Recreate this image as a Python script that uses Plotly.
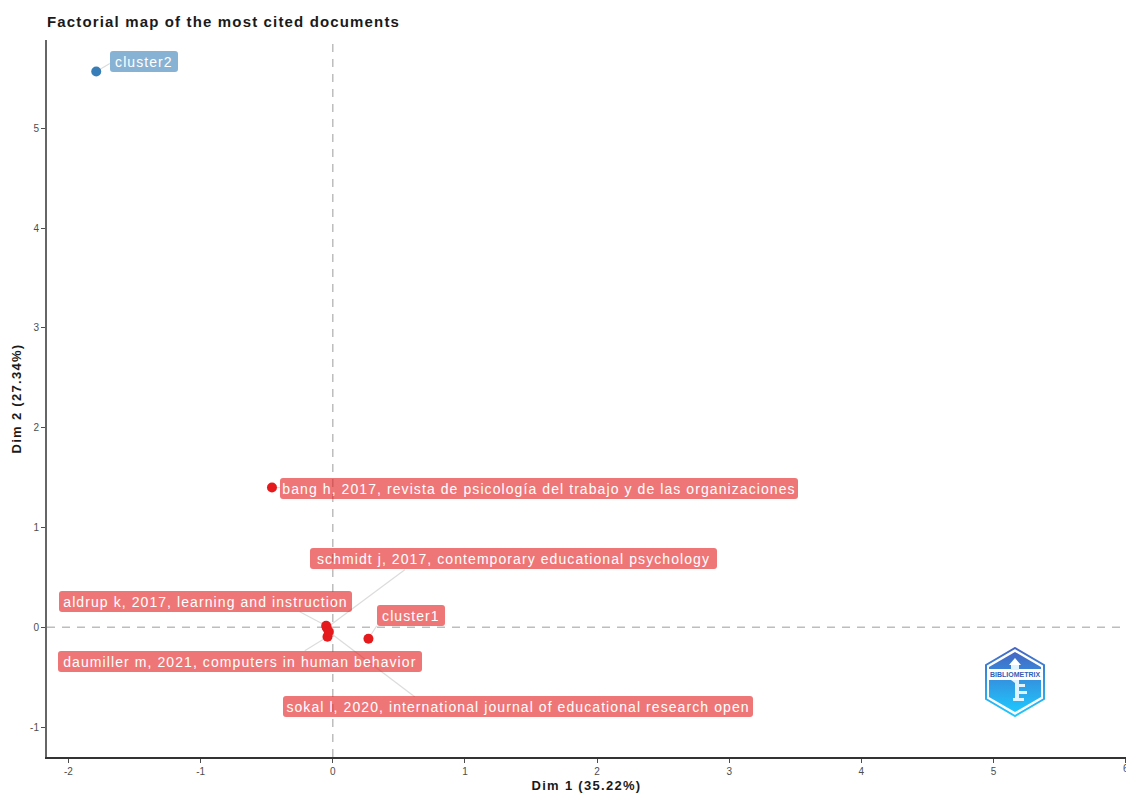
import base64
import plotly.graph_objects as go

doc_labels = [
    "cluster2",
    "bang h, 2017, revista de psicología del trabajo y de las organizaciones",
    "schmidt j, 2017, contemporary educational psychology",
    "aldrup k, 2017, learning and instruction",
    "cluster1",
    "daumiller m, 2021, computers in human behavior",
    "sokal l, 2020, international journal of educational research open",
]
dim1 = [-1.79, -0.46, -0.045, -0.05, 0.27, -0.04, -0.03]
dim2 = [5.57, 1.40, -0.005, 0.015, -0.115, -0.095, -0.045]
cluster = [2, 1, 1, 1, 1, 1, 1]

# Label placement (centres, box widths) and connector ends
label_x = [-1.43, 1.558, 1.365, -0.965, 0.59, -0.703, 1.40]
label_y = [5.667, 1.394, 0.69, 0.256, 0.12, -0.341, -0.792]
label_w = [64, 514, 403, 289, 64, 360, 466]
link_x = [-1.687, -0.40, 0.545, -0.25, 0.333, -0.212, 0.62]
link_y = [5.65, 1.40, 0.577, 0.155, 0.015, -0.236, -0.697]

x_ticks = [-2, -1, 0, 1, 2, 3, 4, 5, 6]
x_tick_text = ["-2", "-1", "0", "1", "2", "3", "4", "5", "6"]
y_ticks = [-1, 0, 1, 2, 3, 4, 5]
y_tick_text = ["-1", "0", "1", "2", "3", "4", "5"]
x_range = [-2.1626, 6.003]
y_range = [-1.30, 5.885]

point_colors = {1: "#e41a1c", 2: "#377eb8"}
label_colors = {1: "rgba(228,26,28,0.6)", 2: "rgba(55,126,184,0.6)"}

logo_svg = """<svg xmlns='http://www.w3.org/2000/svg' viewBox='0 0 60 70'>
<defs><linearGradient id='g' x1='0' y1='0' x2='0' y2='1'>
<stop offset='0' stop-color='#4466c4'/><stop offset='1' stop-color='#1fc8ff'/></linearGradient></defs>
<polygon points='30,1 59,18 59,52 30,69 1,52 1,18' fill='none' stroke='url(#g)' stroke-width='2'/>
<polygon points='30,5 56,20 56,50 30,65 4,50 4,20' fill='url(#g)'/>
<rect x='3' y='22' width='54' height='11' fill='#ffffff'/>
<polygon points='30,11 36,18 24,18' fill='#ffffff'/>
<path d='M26 18 h8 v5 h-8 z M26 33 h8 v4 h6 v3 h-6 v4 h8 v3 h-8 v4 h5 v3 h-11 v-3 h2 v-15 z' fill='#dff4ff'/>
</svg>"""
logo_uri = "data:image/svg+xml;base64," + base64.b64encode(logo_svg.encode()).decode()

fig = go.Figure()
fig.add_hline(y=0, line=dict(color="#bdbdbd", width=1.5, dash="8px,7px"), layer="below")
fig.add_vline(x=0, line=dict(color="#bdbdbd", width=1.5, dash="8px,7px"), layer="below")

for px, py, ex, ey in zip(dim1, dim2, link_x, link_y):
    fig.add_trace(go.Scatter(x=[px, ex], y=[py, ey], mode="lines", hoverinfo="skip",
                             line=dict(color="#dcdcdc", width=1.2), showlegend=False))

fig.add_trace(go.Scatter(
    x=dim1, y=dim2, mode="markers", hoverinfo="text", text=doc_labels,
    marker=dict(size=10, color=[point_colors[c] for c in cluster]),
    showlegend=False, cliponaxis=False,
))

for lab, lx, ly, w, c in zip(doc_labels, label_x, label_y, label_w, cluster):
    fig.add_annotation(
        x=lx, y=ly, xref="x", yref="y", text=lab, showarrow=False,
        width=w, height=17, align="center", valign="middle",
        font=dict(family="Liberation Sans, Arial, sans-serif", size=14, color="white"),
        bgcolor=label_colors[c], borderpad=2, borderwidth=0,
    )

fig.add_layout_image(
    source=logo_uri, xref="paper", yref="paper", x=(985-47)/1079, y=(757-647)/717,
    sizex=60/1079, sizey=70/717, xanchor="left", yanchor="top", layer="below",
    sizing="stretch",
)
fig.add_annotation(
    x=5.165, y=-0.475, xref="x", yref="y", text="<b>BIBLIOMETRIX</b>", showarrow=False,
    font=dict(family="Liberation Sans, Arial, sans-serif", size=7, color="#2f5fb8"),
)
# The last tick label sits on the page edge, where the axis drops it
fig.add_annotation(
    x=x_ticks[-1], y=0, xref="x", yref="paper", yshift=-11, text=x_tick_text[-1], showarrow=False,
    xanchor="center", yanchor="middle", font=dict(size=10, color="#4d4d4d"),
)

fig.update_layout(
    width=1126, height=793, margin=dict(l=47, r=0, t=40, b=36),
    plot_bgcolor="white", paper_bgcolor="white",
    font=dict(family="Liberation Sans, Arial, sans-serif"),
    title=dict(text="<b>Factorial map of the most cited documents</b>", x=47/1126, xanchor="left",
               y=1-22/793, yanchor="middle", font=dict(size=15, color="#1a1a1a")),
    xaxis=dict(range=x_range, tickmode="array", tickvals=x_ticks, ticktext=x_tick_text,
               showgrid=False, zeroline=False,
               showline=True, linecolor="#333333", linewidth=2, ticks="outside",
               ticklen=4, tickcolor="#4d4d4d", tickfont=dict(size=10, color="#4d4d4d"),
               title=dict(text="<b>Dim 1 (35.22%)</b>", font=dict(size=13, color="#1a1a1a"), standoff=8)),
    yaxis=dict(range=y_range, tickmode="array", tickvals=y_ticks, ticktext=y_tick_text,
               showgrid=False, zeroline=False,
               showline=True, linecolor="#666666", linewidth=2, ticks="outside",
               ticklen=4, tickcolor="#4d4d4d", tickfont=dict(size=10, color="#4d4d4d"),
               title=dict(text="<b>Dim 2 (27.34%)</b>", font=dict(size=13, color="#1a1a1a"), standoff=6)),
)

post = """document.body.style.margin='0';document.documentElement.style.overflow='hidden';
document.querySelectorAll('.annotation rect.bg').forEach(r=>{r.setAttribute('rx','3');r.setAttribute('ry','3');});
document.querySelectorAll('.annotation-text').forEach(t=>{if(t.textContent.indexOf('BIBLIO')<0&&t.textContent!=='6')t.style.letterSpacing='1.08px';});
document.querySelectorAll('.gtitle').forEach(t=>{t.style.letterSpacing='1.15px';});
document.querySelectorAll('.xtitle,.ytitle').forEach(t=>{t.style.letterSpacing='1.3px';});"""
fig.write_html("out.html", post_script=post, config={"displayModeBar": False})
